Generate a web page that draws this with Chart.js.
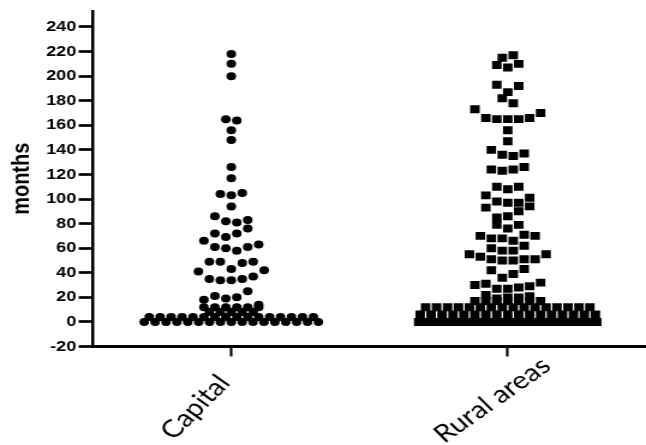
<!DOCTYPE html>
<html>
<head>
<meta charset="utf-8">
<script src="https://cdn.jsdelivr.net/npm/chart.js@4.4.1/dist/chart.umd.min.js"></script>
<style>
    html, body { margin: 0; padding: 0; background: #fff; overflow: hidden; }
    /* the source figure is slightly stretched sideways */
    #wrap { width: 538px; height: 445px; transform: scaleX(1.2007); transform-origin: 0 0; }
</style>
</head>
<body>
<div id="wrap"><canvas id="dotPlot" width="538" height="445"></canvas></div>
<script>
// Categories and where they sit on the x axis
const categories = ['Capital', 'Rural areas'];
const groupPos = [1, 2];

// Values in months, one inner list per row of dots (top to bottom, left to right)
const capitalRows = [
    [218], [210], [200], [165, 164], [156], [148], [126], [117],
    [104, 103, 105], [94], [86, 82, 81, 83], [72, 69, 72, 76],
    [66, 61, 60, 58, 61, 63], [41, 49, 49, 43, 48, 49, 42],
    [35, 34, 34, 35, 37], [18, 21, 19, 20, 25, 14],
    [12, 12, 12, 12, 12, 12], [8, 8, 8, 8, 8],
    [4, 4, 4, 4, 4, 4, 4, 4, 4, 4, 4, 4, 4, 4, 4, 4],
    [0, 0, 0, 0, 0, 0, 0, 0, 0, 0, 0, 0, 0, 0, 0, 0, 0]
];

const ruralRows = [
    [215, 217], [209, 207, 210], [193, 187, 192], [182, 178],
    [173, 166, 165, 165, 165, 166, 170], [156], [147],
    [140, 136, 135, 137], [124, 123, 124, 126], [110, 108, 110],
    [103, 98, 97, 97, 101], [93, 85, 86, 90, 94], [79, 76, 79],
    [70, 68, 68, 66, 71, 70], [60, 58, 58, 62],
    [55, 53, 51, 50, 50, 51, 51, 55], [42, 36, 39, 43],
    [30, 31, 27, 27, 28, 29, 32], [22, 19, 20, 20, 21],
    [17, 17, 17, 17, 17, 17, 17],
    [12, 12, 12, 12, 12, 12, 12, 12, 12, 12, 12, 12, 12, 12, 12, 12],
    [6, 6, 6, 6, 6, 6, 6, 6, 6, 6, 6, 6, 6, 6, 6, 6, 6],
    [0, 0, 0, 0, 0, 0, 0, 0, 0, 0, 0, 0, 0, 0, 0, 0, 0, 0, 0, 0, 0, 0, 0, 0]
];

// y tick labels
const yTicks = [-20, 0, 20, 40, 60, 80, 100, 120, 140, 160, 180, 200, 220, 240];

// spread each row sideways around the category centre (column scatter layout)
function spreadRows(rows, center, step, maxSpan) {
    const pts = [];
    rows.forEach(function (row) {
        const n = row.length;
        const s = n > 1 ? Math.min(step, maxSpan / (n - 1)) : 0;
        row.forEach(function (v, i) {
            pts.push({ x: center + (i - (n - 1) / 2) * s, y: v });
        });
    });
    return pts;
}

// category names under the axis, slanted and starting below-left of each tick
const labelShift = [-48, -53];   // px from the tick to the start of the text
const labelBase = [441, 444];
const labelAngle = [50, 40];
const categoryLabels = {
    id: 'categoryLabels',
    afterDraw: function (chart) {
        const c = chart.ctx;
        const xScale = chart.scales.x;
        c.save();
        c.font = '24.5px Lato';
        c.fillStyle = '#000';
        c.textAlign = 'left';
        c.textBaseline = 'alphabetic';
        categories.forEach(function (name, i) {
            const px = xScale.getPixelForValue(groupPos[i]);
            c.save();
            c.translate(px + labelShift[i], labelBase[i]);
            c.rotate(-labelAngle[i] * Math.PI / 180);
            c.fillText(name, 0, 0);
            c.restore();
        });
        c.restore();
    }
};

const ctx = document.getElementById('dotPlot').getContext('2d');
const dotPlot = new Chart(ctx, {
    type: 'scatter',
    data: {
        datasets: [{
            label: categories[0],
            data: spreadRows(capitalRows, groupPos[0], 0.0396, 0.63),
            pointStyle: 'circle',
            pointRadius: 4,
            backgroundColor: '#000',
            borderWidth: 0
        }, {
            label: categories[1],
            data: spreadRows(ruralRows, groupPos[1], 0.0396, 0.644),
            pointStyle: 'rect',
            pointRadius: 5.6,
            backgroundColor: '#000',
            borderWidth: 0
        }]
    },
    plugins: [categoryLabels],
    options: {
        responsive: false,
        animation: false,
        layout: { autoPadding: false, padding: { top: 9, right: 0, bottom: 0, left: 0 } },
        plugins: {
            legend: { display: false },
            tooltip: { enabled: false }
        },
        scales: {
            x: {
                type: 'linear',
                min: 0.5,
                max: 2.5,
                afterBuildTicks: function (scale) {
                    scale.ticks = groupPos.map(function (v) { return { value: v }; });
                },
                afterFit: function (scale) { scale.height = 98.5; },
                ticks: { display: false },
                grid: { drawOnChartArea: false, tickLength: 10, tickWidth: 2.1, tickColor: '#000' },
                border: { color: '#000', width: 3 }
            },
            y: {
                min: -20,
                max: 253,
                afterBuildTicks: function (scale) {
                    scale.ticks = yTicks.map(function (v) { return { value: v }; });
                },
                afterFit: function (scale) { scale.width = 77.5; },
                ticks: {
                    padding: 2,
                    color: '#000',
                    font: { family: 'Liberation Sans', weight: 'bold', size: 15 }
                },
                grid: { drawOnChartArea: false, tickLength: 12, tickWidth: 2.7, tickColor: '#000' },
                border: { color: '#000', width: 2.5 },
                title: {
                    display: true,
                    text: 'months',
                    color: '#000',
                    padding: { top: 6, bottom: 0 },
                    font: { family: 'Liberation Sans', weight: 'bold', size: 20 }
                }
            }
        }
    }
});
</script>
</body>
</html>
